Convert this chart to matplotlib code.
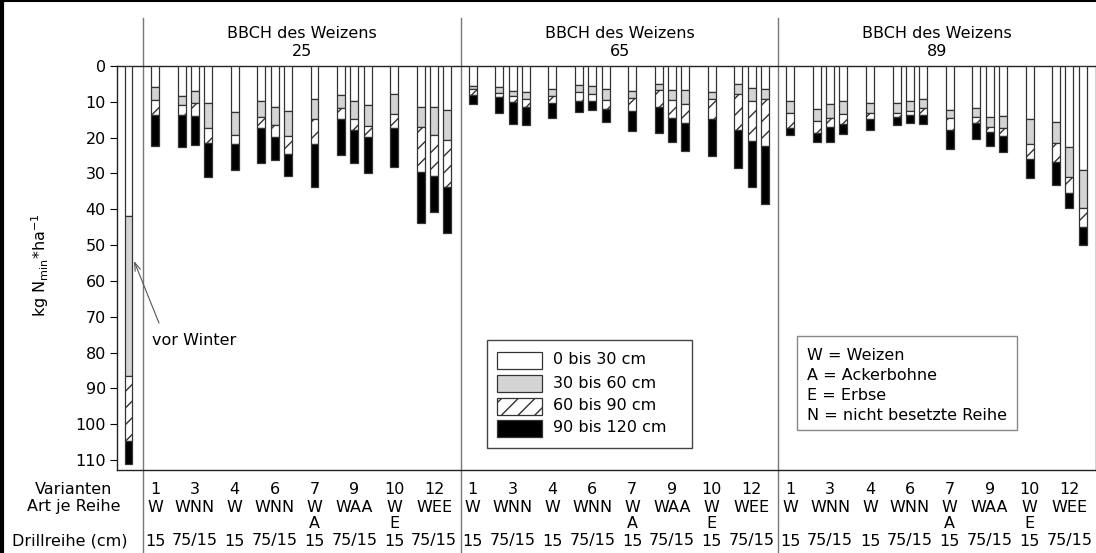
import numpy as np
import matplotlib.pyplot as plt
from matplotlib.patches import Rectangle
from matplotlib.lines import Line2D
from matplotlib.transforms import Affine2D, blended_transform_factory

# Nmin je Bodenschicht (kg N/ha), je Balken: 0-30, 30-60, 60-90, 90-120 cm
stages = ["25", "65", "89"]
layer_names = ["0 bis 30 cm", "30 bis 60 cm", "60 bis 90 cm", "90 bis 120 cm"]

vor_winter = [42.0, 44.5, 18.2, 6.3]

s25_0_30 = [6.0, 8.3, 7.1, 10.2, 12.8, 9.8, 11.4, 12.5, 9.3, 8.1, 9.9, 10.9, 7.8, 11.4, 11.4, 12.3]
s25_30_60 = [3.5, 2.7, 3.1, 7.0, 6.4, 4.3, 5.1, 7.0, 5.6, 3.7, 4.9, 5.9, 5.7, 5.6, 7.8, 8.4]
s25_60_90 = [4.2, 2.7, 3.7, 4.4, 2.6, 3.1, 3.3, 5.0, 6.9, 2.9, 3.1, 3.0, 3.8, 12.5, 11.5, 13.0]
s25_90_120 = [8.6, 8.8, 8.2, 9.5, 7.3, 9.8, 6.4, 6.1, 12.1, 10.1, 9.2, 10.0, 11.0, 14.4, 10.2, 12.9]

s65_0_30 = [5.6, 6.0, 7.0, 7.3, 6.3, 5.3, 5.6, 6.5, 6.9, 4.9, 6.7, 6.7, 7.2, 4.9, 6.1, 6.3]
s65_30_60 = [0.9, 1.4, 1.3, 1.9, 2.0, 1.9, 2.2, 3.0, 2.0, 1.8, 2.8, 4.0, 2.0, 2.8, 3.6, 3.0]
s65_60_90 = [1.7, 1.3, 1.7, 2.2, 2.1, 2.5, 1.9, 2.6, 3.6, 4.7, 5.0, 5.3, 5.5, 10.2, 11.2, 13.0]
s65_90_120 = [2.3, 4.4, 6.1, 5.1, 4.0, 3.2, 2.7, 3.6, 5.6, 7.3, 6.8, 7.8, 10.3, 10.7, 13.0, 16.3]

s89_0_30 = [9.8, 12.1, 10.7, 9.7, 10.4, 10.3, 9.8, 9.3, 12.3, 11.8, 14.2, 14.0, 14.9, 15.7, 22.6, 28.9]
s89_30_60 = [3.3, 3.2, 3.9, 3.8, 2.7, 2.9, 2.8, 2.5, 2.3, 2.4, 2.8, 3.2, 7.0, 5.9, 8.4, 10.7]
s89_60_90 = [4.2, 3.4, 2.4, 2.7, 1.7, 1.0, 1.1, 1.9, 3.3, 1.7, 1.4, 2.4, 4.1, 5.3, 4.5, 5.4]
s89_90_120 = [2.0, 2.6, 4.1, 2.9, 3.1, 2.3, 2.2, 2.5, 5.4, 4.5, 4.0, 4.5, 5.2, 6.2, 4.2, 4.9]

# Varianten (Tabelle unter dem Diagramm)
varianten = ["1", "3", "4", "6", "7", "9", "10", "12"]
art_je_reihe = ["W", "WNN", "W", "WNN", "W", "WAA", "W", "WEE"]
art_zeile2 = ["", "", "", "", "A", "", "E", ""]
drillreihe = ["15", "75/15", "15", "75/15", "15", "75/15", "15", "75/15"]
reihen = [1, 3, 1, 3, 1, 3, 1, 3]

data = {
    "25": [s25_0_30, s25_30_60, s25_60_90, s25_90_120],
    "65": [s65_0_30, s65_30_60, s65_60_90, s65_90_120],
    "89": [s89_0_30, s89_30_60, s89_60_90, s89_90_120],
}

face = ["white", "#d4d4d4", "white", "black"]
hatch = [None, None, "//", None]
edge = "#333333"

W, H = 1096, 553
plt.rcParams["font.family"] = ["DejaVu Sans"]
plt.rcParams["hatch.linewidth"] = 1.0
fs = 11.5

fig = plt.figure(figsize=(W / 100, H / 100), dpi=100)
ax = fig.add_axes([117 / W, 1 - 470 / H, (W - 117) / W, (470 - 66) / H])

# pixel transform for figure-level elements (y from top)
px = Affine2D().scale(1 / W, -1 / H).translate(0, 1) + fig.transFigure

# slot positions of bars inside one panel
slots = []
s = 0
for n in reihen:
    slots.extend(range(s, s + n))
    s += n + 1
slots = np.array(slots)
centers = []
s = 0
for n in reihen:
    centers.append(s + (n - 1) / 2)
    s += n + 1

panel_w = 23.9
bw = 0.6

for i, st in enumerate(stages):
    x = slots + i * panel_w
    bottom = np.zeros(len(x))
    for k in range(4):
        vals = np.array(data[st][k])
        ax.bar(x, vals, bottom=bottom, width=bw, color=face[k], edgecolor=edge,
               hatch=hatch[k], linewidth=0.9, zorder=3)
        bottom += vals

# vor Winter
b = 0
for k in range(4):
    ax.bar(-1.99, vor_winter[k], bottom=b, width=0.55, color=face[k], edgecolor=edge,
           hatch=hatch[k], linewidth=0.9, zorder=3)
    b += vor_winter[k]

ax.set_xlim(-2.86, 3 * panel_w - 0.9)
ax.set_ylim(112.8, 0)
ax.set_yticks(np.arange(0, 111, 10))
ax.tick_params(axis="y", direction="out", length=5, labelsize=fs, pad=3)
ax.tick_params(axis="x", bottom=False, labelbottom=False)
for sp in ax.spines.values():
    sp.set_linewidth(1.0)
    sp.set_color("#222222")

tr = blended_transform_factory(ax.transData, px)

# panel separators and headers
for i in range(3):
    xs = -0.9 + i * panel_w
    ax.add_line(Line2D([xs, xs], [18, H], transform=tr, color="#777777", lw=1.0,
                       clip_on=False, zorder=1))
    xc = -0.9 + (i + 0.5) * panel_w
    ax.text(xc, 33, "BBCH des Weizens", transform=tr, ha="center", va="center", fontsize=fs)
    ax.text(xc, 52, stages[i], transform=tr, ha="center", va="center", fontsize=fs)

    for j in range(len(varianten)):
        xv = centers[j] + i * panel_w
        ax.text(xv, 490, varianten[j], transform=tr, ha="center", va="center", fontsize=fs)
        ax.text(xv, 507, art_je_reihe[j], transform=tr, ha="center", va="center", fontsize=fs)
        if art_zeile2[j]:
            ax.text(xv, 524, art_zeile2[j], transform=tr, ha="center", va="center", fontsize=fs)
        ax.text(xv, 541, drillreihe[j], transform=tr, ha="center", va="center", fontsize=fs)

fig.text(74 / W, 1 - 490 / H, "Varianten", ha="center", va="center", fontsize=fs)
fig.text(74 / W, 1 - 507 / H, "Art je Reihe", ha="center", va="center", fontsize=fs)
fig.text(70 / W, 1 - 541 / H, "Drillreihe (cm)", ha="center", va="center", fontsize=fs)

fig.text(40 / W, 1 - 265 / H, r"kg N$_{\mathrm{min}}$*ha$^{-1}$", rotation=90,
         ha="center", va="center", fontsize=fs)

# vor Winter Beschriftung
ax.annotate("", xy=(-1.66, 53.7), xytext=(0.38, 72.5),
            arrowprops=dict(arrowstyle="->,head_length=0.6,head_width=0.2", color="#555555", lw=0.8))
ax.text(-0.23, 76.7, "vor Winter", ha="left", va="center", fontsize=fs)

# Legende Bodenschichten
fig.add_artist(Rectangle((487, 340), 205, 108, transform=px, fill=False, edgecolor="#444444", lw=1.0))
for k, y in enumerate([360, 383, 406, 428]):
    fig.add_artist(Rectangle((497, y - 8.5), 45, 17, transform=px, facecolor=face[k],
                             edgecolor=edge, hatch=hatch[k], lw=0.9))
    fig.text(553 / W, 1 - y / H, layer_names[k], ha="left", va="center", fontsize=fs)

# Legende Kulturen
fig.add_artist(Rectangle((797, 336), 220, 94, transform=px, fill=False, edgecolor="#888888", lw=1.0))
for y, t in zip([355, 375, 395, 415], ["W = Weizen", "A = Ackerbohne", "E = Erbse", "N = nicht besetzte Reihe"]):
    fig.text(807 / W, 1 - y / H, t, ha="left", va="center", fontsize=fs)

# Rahmen
fig.add_artist(Line2D([1.5, 1.5], [0, H], transform=px, color="black", lw=3))
fig.add_artist(Line2D([0, W], [1, 1], transform=px, color="black", lw=1.5))

fig.savefig("out.png", dpi=100)
